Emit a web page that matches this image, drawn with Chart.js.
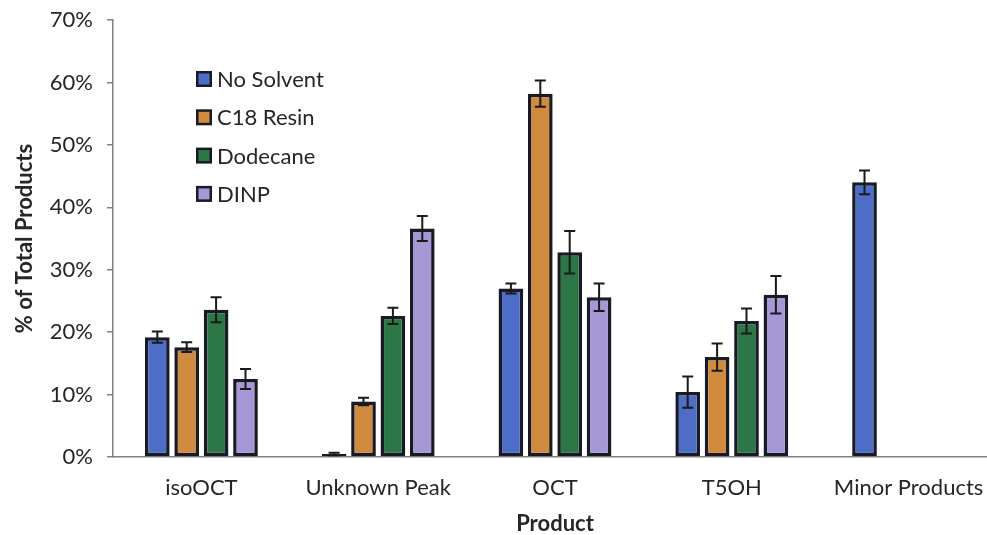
<!DOCTYPE html>
<html lang="en">
<head>
  <meta charset="UTF-8">
  <title>Product distribution</title>
  <script src="https://cdn.jsdelivr.net/npm/chart.js"></script>
  <style>
    html, body { margin: 0; padding: 0; background: #fff; overflow: hidden; }
    #wrap { width: 1000px; height: 535px; position: relative; }
  </style>
</head>
<body>
  <div id="wrap"><canvas id="productChart"></canvas></div>

  <script>
    // data (percent of total products)
    const products = ['isoOCT', 'Unknown Peak', 'OCT', 'T5OH', 'Minor Products'];
    const seriesNames = ['No Solvent', 'C18 Resin', 'Dodecane', 'DINP'];

    const noSolvent = [19.2, 0.5, 27.0, 10.4, 44.0];
    const c18Resin  = [17.6, 8.9, 58.2, 16.0, null];
    const dodecane  = [23.6, 22.6, 32.8, 21.8, null];
    const dinp      = [12.5, 36.6, 25.6, 26.0, null];

    const noSolventErr = [0.9, 0.2, 0.8, 2.5, 1.9];
    const c18ResinErr  = [0.8, 0.6, 2.1, 2.2, null];
    const dodecaneErr  = [2.0, 1.3, 3.4, 2.0, null];
    const dinpErr      = [1.6, 2.0, 2.2, 3.0, null];

    const yTicks = [0, 10, 20, 30, 40, 50, 60, 70];

    const colors = ['#4d6dc6', '#d08b3f', '#2d7747', '#a697d5'];
    const edge = '#181a26';
    const textColor = '#262626';
    const axisColor = '#808080';
    const fontFamily = 'Lato, "Open Sans", sans-serif';

    const values = [noSolvent, c18Resin, dodecane, dinp];
    const errors = [noSolventErr, c18ResinErr, dodecaneErr, dinpErr];

    // error bars drawn on top of each bar
    const errorBars = {
      id: 'errorBars',
      afterDatasetsDraw(chart) {
        const ctx = chart.ctx;
        const y = chart.scales.y;
        ctx.save();
        ctx.strokeStyle = '#1a1a1a';
        ctx.lineWidth = 2;
        chart.data.datasets.forEach((ds, i) => {
          const meta = chart.getDatasetMeta(i);
          meta.data.forEach((bar, j) => {
            const v = ds.data[j], e = errors[i][j];
            if (v == null || e == null) return;
            const top = y.getPixelForValue(v + e);
            const bot = y.getPixelForValue(Math.max(0, v - e));
            ctx.beginPath();
            ctx.moveTo(bar.x, top); ctx.lineTo(bar.x, bot);
            ctx.moveTo(bar.x - 5.5, top); ctx.lineTo(bar.x + 5.5, top);
            ctx.moveTo(bar.x - 5.5, bot); ctx.lineTo(bar.x + 5.5, bot);
            ctx.stroke();
          });
        });
        ctx.restore();
      }
    };

    // legend sits inside the plot, top left
    const insideLegend = {
      id: 'insideLegend',
      afterDraw(chart) {
        const ctx = chart.ctx;
        ctx.save();
        ctx.font = '22px ' + fontFamily;
        ctx.textBaseline = 'middle';
        seriesNames.forEach((name, i) => {
          const cy = 79 + i * 38.3;
          ctx.fillStyle = edge;
          ctx.fillRect(196, cy - 8, 16, 16);
          ctx.fillStyle = colors[i];
          ctx.fillRect(198.5, cy - 5.5, 11, 11);
          ctx.fillStyle = textColor;
          ctx.fillText(name, 217, cy + 1);
        });
        ctx.restore();
      }
    };

    new Chart(document.getElementById('productChart'), {
      type: 'bar',
      data: {
        labels: products,
        datasets: seriesNames.map((name, i) => ({
          label: name,
          data: values[i],
          backgroundColor: colors[i],
          borderColor: edge,
          borderWidth: 3.5,
          borderSkipped: false,
          categoryPercentage: 0.665,
          barPercentage: 0.84
        }))
      },
      options: {
        responsive: true,
        maintainAspectRatio: false,
        animation: false,
        layout: { padding: { top: 20, right: 3, left: 0, bottom: 0 } },
        plugins: {
          legend: { display: false },
          tooltip: { enabled: false }
        },
        scales: {
          x: {
            grid: { display: false },
            border: { display: true, color: axisColor, width: 1.5 },
            ticks: { color: textColor, font: { family: fontFamily, size: 22 }, padding: 10, maxRotation: 0 },
            title: { display: true, text: 'Product', color: textColor, font: { family: fontFamily, size: 22, weight: 'bold', lineHeight: 1 }, padding: { top: 0, bottom: 0 } },
            afterFit(scale) { scale.height = 78; }
          },
          y: {
            min: 0,
            max: 70,
            afterBuildTicks(scale) { scale.ticks = yTicks.map(v => ({ value: v })); },
            grid: { drawOnChartArea: false, tickLength: 6, color: axisColor, tickColor: axisColor, lineWidth: 1.5 },
            border: { display: true, color: axisColor, width: 1.5 },
            ticks: {
              color: textColor,
              font: { family: fontFamily, size: 22 },
              padding: 14,
              callback: v => v + '%'
            },
            title: { display: true, text: '% of Total Products', color: textColor, font: { family: fontFamily, size: 22, weight: 'bold' }, padding: { top: 12, bottom: 0 } },
            afterFit(scale) {
              scale.width = 113;
              scale.paddingTop = 0;
              scale.paddingBottom = 0;
            }
          }
        }
      },
      plugins: [errorBars, insideLegend]
    });
  </script>
</body>
</html>
